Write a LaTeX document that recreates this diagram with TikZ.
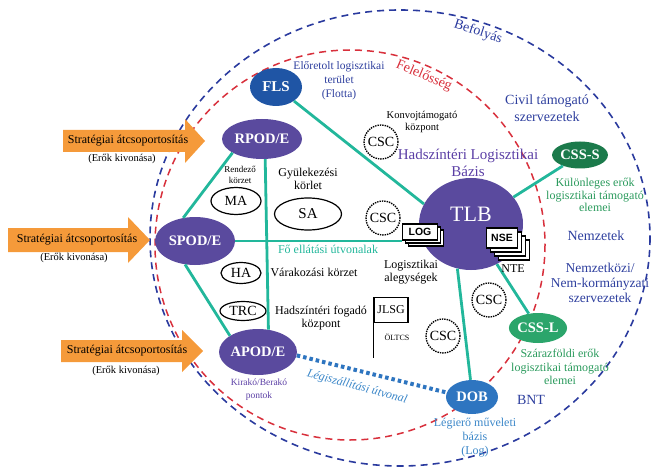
\documentclass[tikz,border=0pt]{standalone}
\usepackage{fontspec}
\setmainfont{Liberation Serif}
\newfontfamily\arialf{Liberation Sans}
\usetikzlibrary{shapes.geometric,shadows}
\definecolor{purp}{HTML}{5A4A9E}
\definecolor{flsblue}{HTML}{1F55A5}
\definecolor{dobblue}{HTML}{2E75C0}
\definecolor{darkgreen}{HTML}{1B7A4B}
\definecolor{midgreen}{HTML}{2BA56B}
\definecolor{teal1}{HTML}{22B79B}
\definecolor{bluedash}{HTML}{2A3A9E}
\definecolor{reddash}{HTML}{D8303C}
\definecolor{orangea}{HTML}{F59A3A}
\definecolor{txtblue}{HTML}{2E3F9E}
\definecolor{txtgreen}{HTML}{2A9A5C}
\definecolor{lightblue}{HTML}{3A86C8}
\definecolor{txtpurple}{HTML}{5B3FA5}
\begin{document}
\begin{tikzpicture}[x=1pt,y=-1pt,
  bignode/.style={ellipse,fill=purp,text=white,inner sep=0pt,
    font=\bfseries\fontsize{14.5}{16}\selectfont},
  plainell/.style={ellipse,draw,line width=1.2pt,inner sep=0pt,
    font=\fontsize{14}{16}\selectfont},
  csc/.style={circle,draw,densely dotted,line width=1.4pt,minimum size=34pt,
    inner sep=0pt,font=\fontsize{14}{16}\selectfont},
  link/.style={teal1,line width=2.8pt},
  card/.style={draw,line width=1.2pt,fill=white,inner sep=0pt,
    font=\arialf\bfseries\fontsize{10.5}{12}\selectfont},
  lbl/.style={align=center,inner sep=0pt,font=\fontsize{12}{13.5}\selectfont},
  arrowtxt/.style={inner sep=0pt,font=\fontsize{12}{14}\selectfont},
  subtxt/.style={inner sep=0pt,font=\fontsize{10.5}{12}\selectfont},
  strat/.style={fill=orangea}
]
\useasboundingbox (0,0) rectangle (652,470);

% zones
\draw[bluedash,line width=1.6pt,dash pattern=on 7pt off 5pt] (400,238) ellipse [x radius=250,y radius=228];
\draw[reddash,line width=1.5pt,dash pattern=on 7pt off 5pt] (350,245) ellipse [x radius=195,y radius=195];

% strategic arrows
\fill[strat] (63,130) -- (185,130) -- (185,119) -- (205,141) -- (185,163) -- (185,152) -- (63,152) -- cycle;
\fill[strat] (8,228) -- (128,228) -- (128,217) -- (150,240) -- (128,263) -- (128,252) -- (8,252) -- cycle;
\fill[strat] (61,340) -- (182,340) -- (182,330) -- (203,351) -- (182,372) -- (182,362) -- (61,362) -- cycle;
\node[arrowtxt] (s1) at (128,141) {Stratégiai átcsoportosítás};
\node[subtxt] (e1) at (122,159) {(Erők kivonása)};
\node[arrowtxt] (s2) at (77,240) {Stratégiai átcsoportosítás};
\node[subtxt] (e2) at (74,258) {(Erők kivonása)};
\node[arrowtxt] (s3) at (127,351) {Stratégiai átcsoportosítás};
\node[subtxt] (e3) at (126,371) {(Erők kivonása)};

% main nodes
\node[bignode,fill=flsblue,minimum width=52pt,minimum height=38pt,font=\bfseries\fontsize{15}{16}\selectfont] (FLS) at (276,87) {FLS};
\node[bignode,minimum width=80pt,minimum height=40pt] (RPOD) at (262,139) {RPOD/E};
\node[bignode,minimum width=80pt,minimum height=48pt] (SPOD) at (195,241) {SPOD/E};
\node[bignode,minimum width=78pt,minimum height=46pt] (APOD) at (258,352) {APOD/E};
\node[ellipse,fill=purp,minimum width=104pt,minimum height=92pt,inner sep=0pt] (TLB) at (471,224) {};
\node[text=white,inner sep=0pt,font=\fontsize{22}{24}\selectfont] (TLBtxt) at (471,214) {TLB};
\node[bignode,fill=darkgreen,minimum width=51pt,minimum height=27pt] (CSSS) at (580,155) {CSS-S};
\node[bignode,fill=midgreen,minimum width=50pt,minimum height=30pt] (CSSL) at (538,328) {CSS-L};
\node[bignode,fill=dobblue,minimum width=52pt,minimum height=34pt] (DOB) at (472,397) {DOB};

% small ellipses
\node[plainell,minimum width=50pt,minimum height=27pt] (MA) at (236,201) {MA};
\node[plainell,minimum width=67pt,minimum height=32pt,font=\fontsize{15}{16}\selectfont] (SA) at (308,214) {SA};
\node[plainell,minimum width=40pt,minimum height=21pt] (HA) at (241,273) {HA};
\node[plainell,minimum width=46pt,minimum height=19pt] (TRC) at (243,311) {TRC};

% CSC
\node[csc] (csc1) at (381,142) {CSC};
\node[csc] (csc2) at (383,218) {CSC};
\node[csc] (csc3) at (489,300) {CSC};
\node[csc] (csc4) at (443,336) {CSC};

% cards
\node[card,minimum width=35pt,minimum height=16pt,
  general shadow={fill=white,draw=black,line width=1.2pt,shadow xshift=6pt,shadow yshift=-6pt},
  general shadow={fill=white,draw=black,line width=1.2pt,shadow xshift=3pt,shadow yshift=-3pt}] (LOG) at (420,232) {LOG};
\node[card,minimum width=31pt,minimum height=20pt,
  general shadow={fill=white,draw=black,line width=1.2pt,shadow xshift=12pt,shadow yshift=-12pt},
  general shadow={fill=white,draw=black,line width=1.2pt,shadow xshift=8pt,shadow yshift=-8pt},
  general shadow={fill=white,draw=black,line width=1.2pt,shadow xshift=4pt,shadow yshift=-4pt}] (NSE) at (502,238) {NSE};
\node[draw,line width=1.2pt,minimum width=34pt,minimum height=25pt,inner sep=0pt,font=\fontsize{12}{13}\selectfont] (JLSG) at (391,310) {JLSG};
\draw[line width=1.2pt] (JLSG.south west) -- ++(0,35) coordinate (jend);
\node[inner sep=0pt,font=\fontsize{8}{9}\selectfont] (OLTCS) at (397,337) {ÖLTCS};

% connectors
\draw[link] (FLS.322) -- (TLB.157);
\draw[link] (RPOD.205) -- (SPOD.117);
\draw[link] (SPOD.247) -- (APOD.150);
\draw[link] (RPOD.279) -- (APOD.65);
\draw[link] (SPOD.east) -- (SPOD.east -| LOG.west);
\draw[link] (TLB) -- (CSSS);
\draw[link] (TLB) -- (CSSL);
\draw[link] (TLB.253) -- (DOB.95);
\draw[dobblue,line width=4pt,dash pattern=on 3.5pt off 3pt] (APOD.-5) -- (DOB.170);

% labels
\node[lbl,text=bluedash,font=\fontsize{14}{16}\selectfont,rotate=-18] (befoly) at (478,32) {Befolyás};
\node[lbl,text=reddash,font=\fontsize{14}{16}\selectfont,rotate=-23] (felel) at (424,76) {Felelősség};
\node[lbl,text=txtblue,font=\fontsize{11.5}{14}\selectfont] (elore) at (339,81) {Előretolt logisztikai\\terület\\(Flotta)};
\node[lbl,font=\fontsize{10.5}{12}\selectfont] (konvoj) at (422,122) {Konvojtámogató\\központ};
\node[lbl,text=txtpurple,font=\fontsize{15}{17}\selectfont] (hlb) at (468,163) {Hadszíntéri Logisztikai\\Bázis};
\node[lbl,text=txtblue,font=\fontsize{14}{17}\selectfont] (civil) at (547,108) {Civil támogató\\szervezetek};
\node[lbl,text=txtgreen,font=\fontsize{12}{12.5}\selectfont] (kulon) at (595,195) {Különleges erők\\logisztikai támogató\\elemei};
\node[lbl,text=txtblue,font=\fontsize{14}{16}\selectfont] (nemz) at (596,236) {Nemzetek};
\node[lbl,text=txtblue,font=\fontsize{13.5}{15}\selectfont] (nemzk) at (600,283) {Nemzetközi/\\Nem-kormányzati\\szervezetek};
\node[lbl,text=txtgreen,font=\fontsize{12}{13.5}\selectfont] (szaraz) at (560,367) {Szárazföldi erők\\logisztikai támogató\\elemei};
\node[lbl,text=txtblue,font=\fontsize{14}{16}\selectfont] (bnt) at (531,400) {BNT};
\node[lbl,text=lightblue,font=\fontsize{12}{14}\selectfont] (legiero) at (475,438) {Légierő műveleti\\bázis\\(Log)};
\node[lbl,text=lightblue,font=\itshape\fontsize{12}{14}\selectfont,rotate=-15] (legisz) at (357,387) {Légiszállítási útvonal};
\node[lbl,text=txtpurple,font=\fontsize{9.5}{13}\selectfont] (kirako) at (259,390) {Kirakó/Berakó\\pontok};
\node[lbl,font=\fontsize{9}{11}\selectfont] (rendezo) at (240,175) {Rendező\\körzet};
\node[lbl,font=\fontsize{12}{12.5}\selectfont] (gyulek) at (308,179) {Gyülekezési\\körlet};
\node[lbl,text=teal1] (foell) at (328,249) {Fő ellátási útvonalak};
\node[lbl] (varak) at (314,272) {Várakozási körzet};
\node[lbl] (logal) at (411,272) {Logisztikai\\alegységek};
\node[lbl] (nte) at (513,269) {NTE};
\node[lbl] (hfk) at (321,318) {Hadszíntéri fogadó\\központ};
\end{tikzpicture}
\end{document}
